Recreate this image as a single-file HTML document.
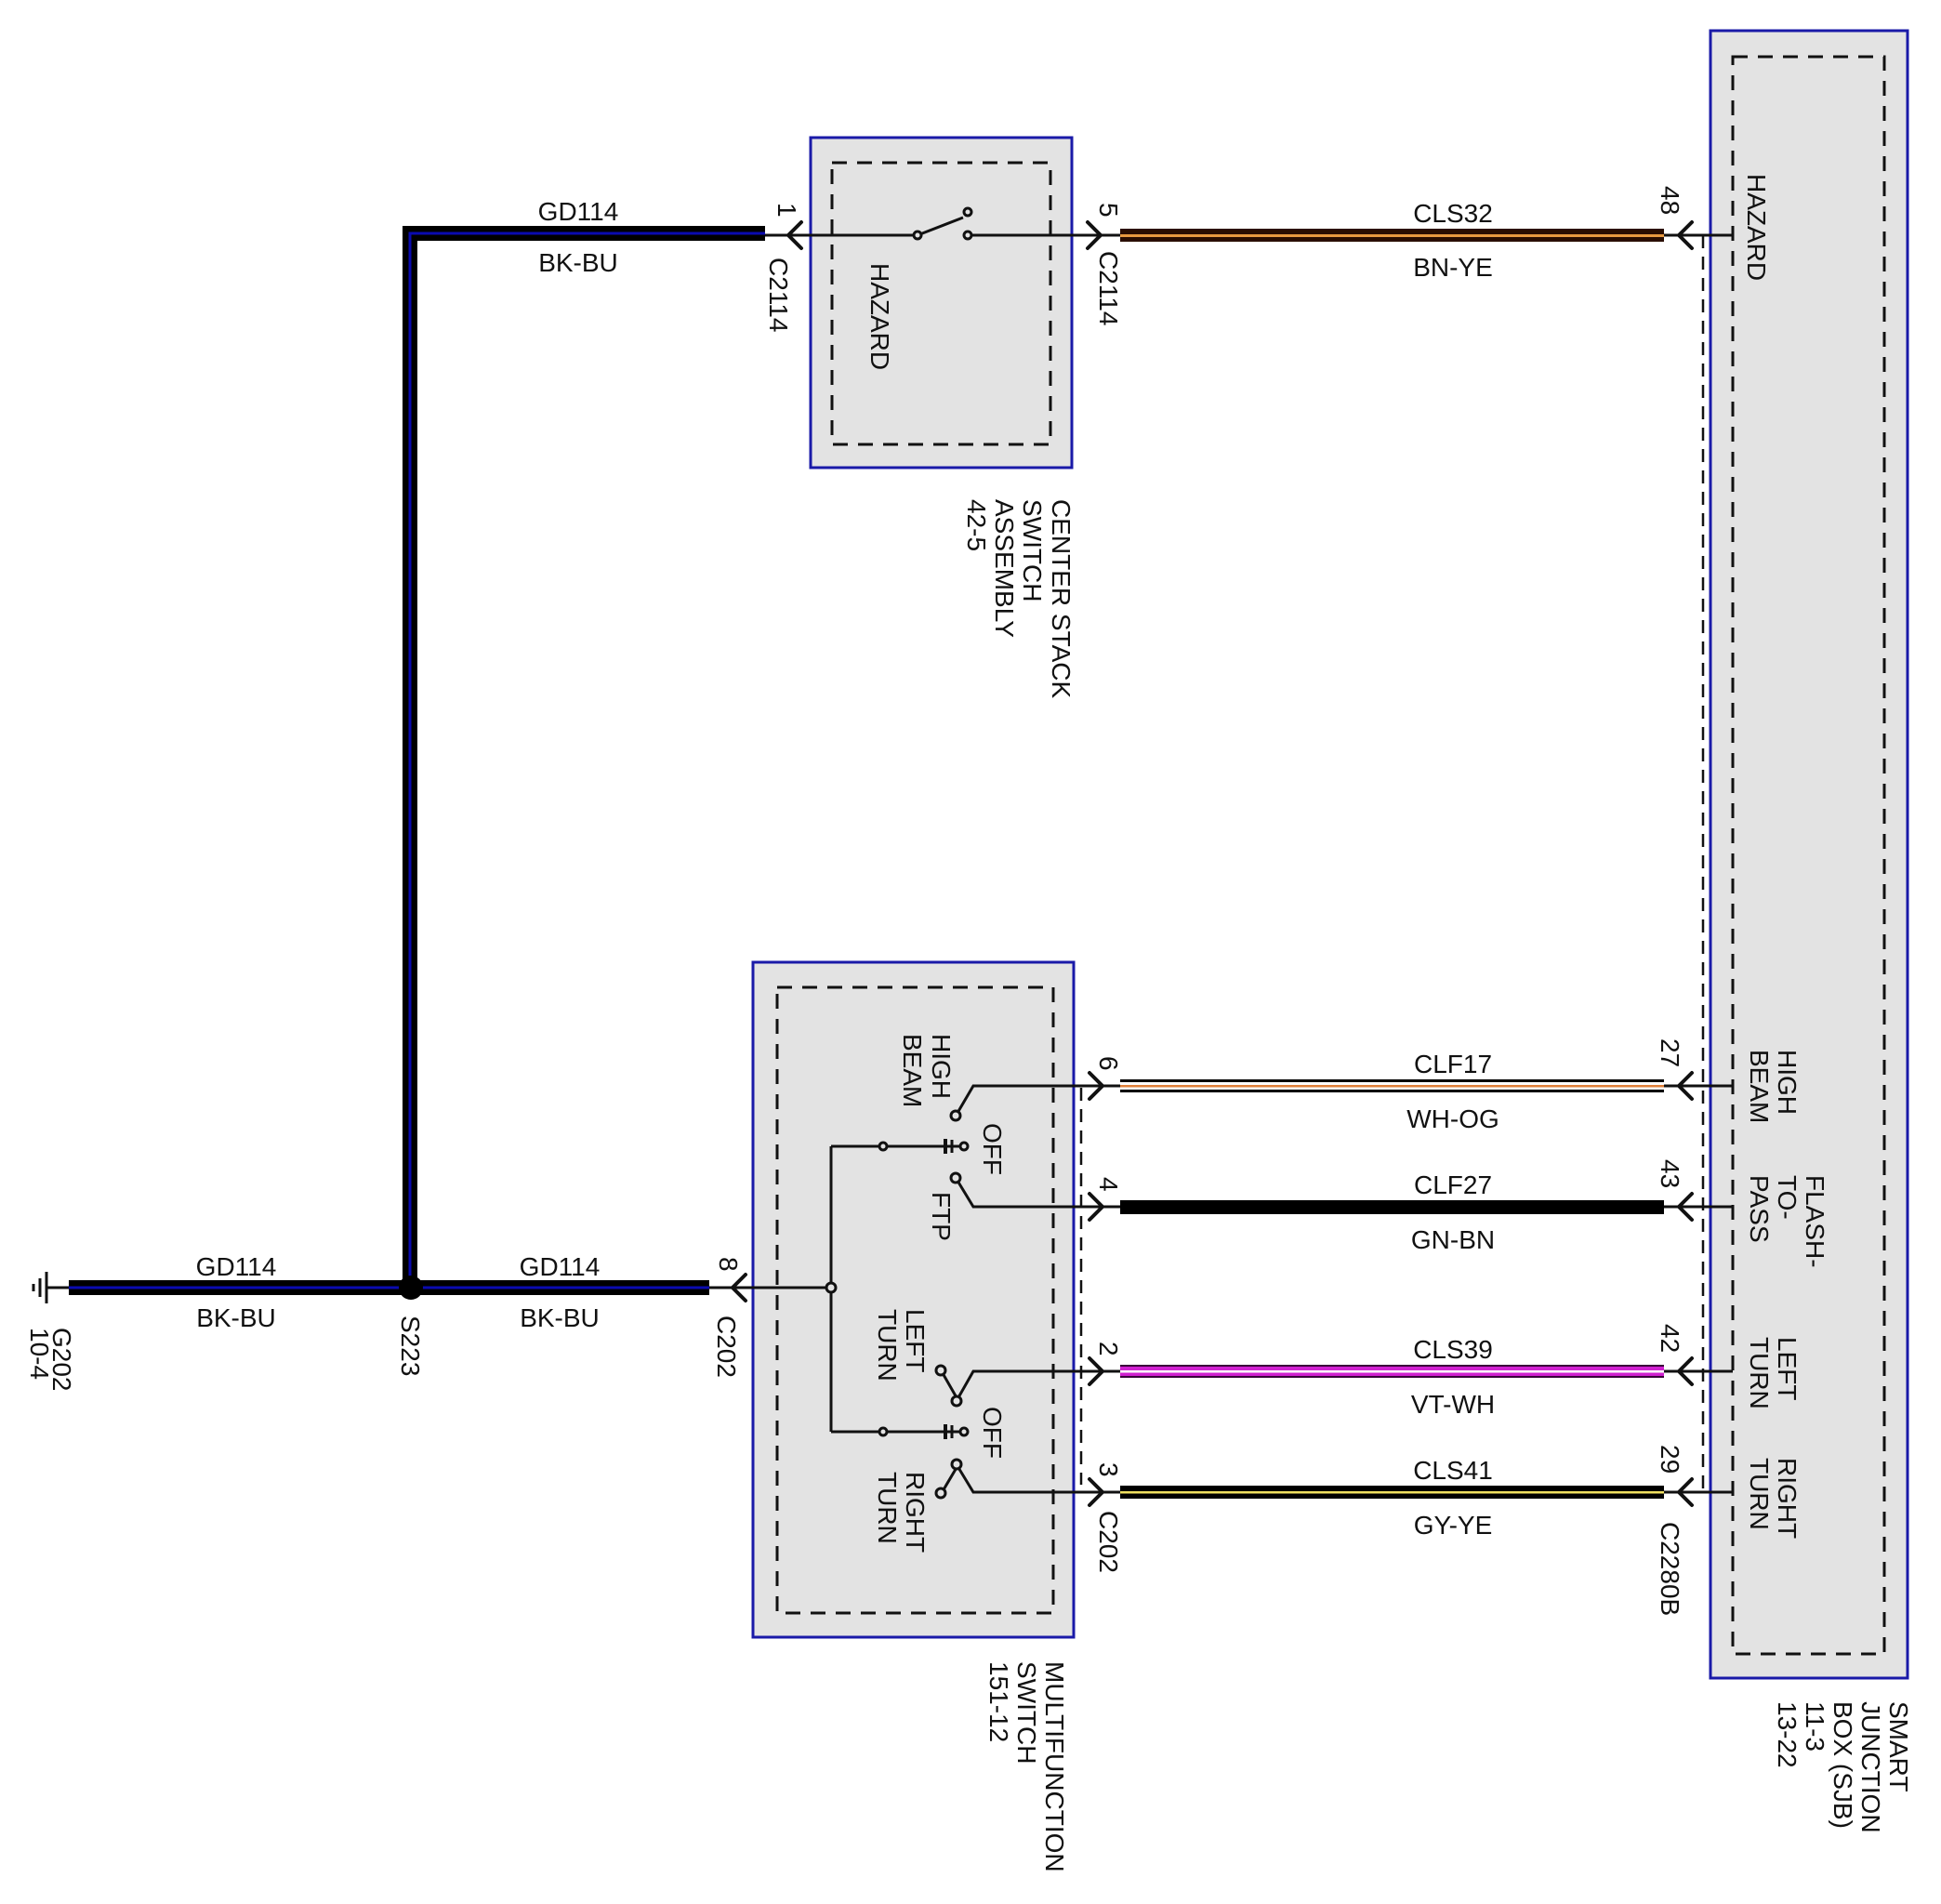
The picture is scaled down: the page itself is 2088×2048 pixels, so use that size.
<!DOCTYPE html>
<html><head><meta charset="utf-8"><style>
html,body{margin:0;padding:0;background:#fff}
svg{display:block}
text{font-family:"Liberation Sans",Arial,sans-serif;font-size:28px;fill:#111}
</style></head><body>
<svg width="2088" height="2048" viewBox="0 0 2088 2048" xmlns="http://www.w3.org/2000/svg">
<!-- boxes -->
<rect x="872" y="148" width="281" height="355" fill="#e3e3e3" stroke="#1a1aa8" stroke-width="3"/>
<rect x="895" y="175" width="235" height="303" fill="none" stroke="#111" stroke-width="3" stroke-dasharray="16,11"/>
<rect x="810" y="1035" width="345" height="726" fill="#e3e3e3" stroke="#1a1aa8" stroke-width="3"/>
<rect x="836" y="1062" width="297" height="673" fill="none" stroke="#111" stroke-width="3" stroke-dasharray="16,11"/>
<rect x="1840" y="33" width="212" height="1772" fill="#e3e3e3" stroke="#1a1aa8" stroke-width="3"/>
<rect x="1864" y="61" width="163" height="1718" fill="none" stroke="#111" stroke-width="3" stroke-dasharray="16,11"/>
<line x1="1832" y1="253" x2="1832" y2="1605" stroke="#111" stroke-width="2.5" stroke-dasharray="14,9"/>
<line x1="1163" y1="1170" x2="1163" y2="1597" stroke="#111" stroke-width="2.5" stroke-dasharray="14,9"/>

<!-- GD114 wires -->
<g fill="none" stroke-linejoin="miter">
<path d="M823,251 H441 V1385" stroke="#000" stroke-width="16"/>
<path d="M823,251 H441 V1385" stroke="#0a0ab0" stroke-width="3"/>
<line x1="74" y1="1385" x2="763" y2="1385" stroke="#000" stroke-width="16"/>
<line x1="74" y1="1385" x2="763" y2="1385" stroke="#0a0ab0" stroke-width="3"/>
</g>
<circle cx="442" cy="1385" r="13" fill="#000"/>
<!-- ground -->
<g stroke="#111" stroke-width="3">
<line x1="50" y1="1385" x2="74" y2="1385"/>
<line x1="50" y1="1368" x2="50" y2="1402"/>
<line x1="43" y1="1375" x2="43" y2="1395"/>
<line x1="36" y1="1381" x2="36" y2="1389"/>
</g>

<!-- thin lines -->
<g stroke="#111" stroke-width="3" fill="none">
<line x1="823" y1="253" x2="987" y2="253"/>
<line x1="1041" y1="253" x2="1205" y2="253"/>
<line x1="987" y1="253" x2="1036" y2="234"/>
<line x1="763" y1="1385" x2="894" y2="1385"/>
<path d="M894,1233 V1540"/>
<line x1="894" y1="1233" x2="1017" y2="1233"/>
<line x1="894" y1="1540" x2="1017" y2="1540"/>
<path d="M1205,1168 H1047 L1030,1197"/>
<path d="M1205,1298 H1047 L1030,1270"/>
<path d="M1205,1475 H1047 L1030,1505 L1014,1477"/>
<path d="M1205,1605 H1047 L1030,1577 L1014,1604"/>
<line x1="1790" y1="253" x2="1864" y2="253"/>
<line x1="1790" y1="1168" x2="1864" y2="1168"/>
<line x1="1790" y1="1298" x2="1864" y2="1298"/>
<line x1="1790" y1="1475" x2="1864" y2="1475"/>
<line x1="1790" y1="1605" x2="1864" y2="1605"/>
<line x1="1017" y1="1225" x2="1017" y2="1241" stroke-width="4"/>
<line x1="1017" y1="1233" x2="1033" y2="1233"/>
<line x1="1024" y1="1226" x2="1024" y2="1240" stroke-width="3"/>
<line x1="1017" y1="1532" x2="1017" y2="1548" stroke-width="4"/>
<line x1="1017" y1="1540" x2="1033" y2="1540"/>
<line x1="1024" y1="1533" x2="1024" y2="1547" stroke-width="3"/>
</g>
<g fill="#e3e3e3" stroke="#111" stroke-width="3">
<circle cx="987" cy="253" r="4"/><circle cx="1041" cy="228" r="4"/><circle cx="1041" cy="253" r="4"/>
<circle cx="894" cy="1385" r="5"/>
<circle cx="950" cy="1233" r="4"/><circle cx="1037" cy="1233" r="4"/>
<circle cx="950" cy="1540" r="4"/><circle cx="1037" cy="1540" r="4"/>
<circle cx="1028" cy="1200" r="5"/><circle cx="1028" cy="1267" r="5"/>
<circle cx="1012" cy="1474" r="5"/><circle cx="1029" cy="1507" r="5"/>
<circle cx="1029" cy="1575" r="5"/><circle cx="1012" cy="1606" r="5"/>
</g>

<!-- colored wires -->
<g>
<rect x="1205" y="246" width="585" height="14" fill="#2a0e00"/>
<rect x="1205" y="252" width="585" height="3" fill="#e89a40"/>
<rect x="1205" y="1161" width="585" height="14" fill="#000"/>
<rect x="1205" y="1164" width="585" height="8" fill="#fff"/>
<rect x="1205" y="1167" width="585" height="2.5" fill="#e0803a"/>
<rect x="1205" y="1291" width="585" height="15" fill="#000"/>
<rect x="1205" y="1468" width="585" height="14" fill="#3a003a"/>
<rect x="1205" y="1470" width="585" height="10" fill="#d020d0"/>
<rect x="1205" y="1474" width="585" height="2.5" fill="#fff"/>
<rect x="1205" y="1598" width="585" height="14" fill="#000"/>
<rect x="1205" y="1604" width="585" height="2.5" fill="#f0e060"/>
</g>

<!-- connectors -->
<g fill="none" stroke="#111" stroke-width="4" stroke-linecap="round">
<path d="M862,239 L848,253 L862,267"/>
<path d="M1170,239 L1184,253 L1170,267"/>
<path d="M1820,239 L1806,253 L1820,267"/>
<path d="M802,1371 L788,1385 L802,1399"/>
<path d="M1172,1154 L1186,1168 L1172,1182"/>
<path d="M1172,1284 L1186,1298 L1172,1312"/>
<path d="M1172,1461 L1186,1475 L1172,1489"/>
<path d="M1172,1591 L1186,1605 L1172,1619"/>
<path d="M1820,1154 L1806,1168 L1820,1182"/>
<path d="M1820,1284 L1806,1298 L1820,1312"/>
<path d="M1820,1461 L1806,1475 L1820,1489"/>
<path d="M1820,1591 L1806,1605 L1820,1619"/>
</g>

<!-- horizontal labels -->
<g text-anchor="middle">
<text x="622" y="237">GD114</text><text x="622" y="292">BK-BU</text>
<text x="254" y="1372">GD114</text><text x="254" y="1427">BK-BU</text>
<text x="602" y="1372">GD114</text><text x="602" y="1427">BK-BU</text>
<text x="1563" y="239">CLS32</text><text x="1563" y="297">BN-YE</text>
<text x="1563" y="1154">CLF17</text><text x="1563" y="1213">WH-OG</text>
<text x="1563" y="1284">CLF27</text><text x="1563" y="1343">GN-BN</text>
<text x="1563" y="1461">CLS39</text><text x="1563" y="1520">VT-WH</text>
<text x="1563" y="1591">CLS41</text><text x="1563" y="1650">GY-YE</text>
</g>

<!-- rotated labels -->
<g>
<text transform="translate(837,218) rotate(90)">1</text>
<text transform="translate(828,277) rotate(90)">C2114</text>
<text transform="translate(1183,218) rotate(90)">5</text>
<text transform="translate(1183,270) rotate(90)">C2114</text>
<text transform="translate(937,283) rotate(90)">HAZARD</text>
<text transform="translate(1132,537) rotate(90)">CENTER STACK</text>
<text transform="translate(1101,537) rotate(90)">SWITCH</text>
<text transform="translate(1071,537) rotate(90)">ASSEMBLY</text>
<text transform="translate(1041,537) rotate(90)">42-5</text>
<text transform="translate(1787,200) rotate(90)">48</text>
<text transform="translate(1880,187) rotate(90)">HAZARD</text>

<text transform="translate(57,1428) rotate(90)">G202</text>
<text transform="translate(33,1428) rotate(90)">10-4</text>
<text transform="translate(432,1415) rotate(90)">S223</text>
<text transform="translate(772,1415) rotate(90)">C202</text>
<text transform="translate(774,1352) rotate(90)">8</text>

<text transform="translate(1003,1112) rotate(90)">HIGH</text>
<text transform="translate(972,1112) rotate(90)">BEAM</text>
<text transform="translate(1058,1208) rotate(90)">OFF</text>
<text transform="translate(1003,1282) rotate(90)">FTP</text>
<text transform="translate(975,1408) rotate(90)">LEFT</text>
<text transform="translate(945,1408) rotate(90)">TURN</text>
<text transform="translate(1058,1513) rotate(90)">OFF</text>
<text transform="translate(975,1583) rotate(90)">RIGHT</text>
<text transform="translate(945,1583) rotate(90)">TURN</text>
<text transform="translate(1125,1787) rotate(90)">MULTIFUNCTION</text>
<text transform="translate(1095,1787) rotate(90)">SWITCH</text>
<text transform="translate(1065,1787) rotate(90)">151-12</text>

<text transform="translate(1183,1136) rotate(90)">6</text>
<text transform="translate(1183,1266) rotate(90)">4</text>
<text transform="translate(1183,1443) rotate(90)">2</text>
<text transform="translate(1183,1573) rotate(90)">3</text>
<text transform="translate(1183,1625) rotate(90)">C202</text>

<text transform="translate(1787,1117) rotate(90)">27</text>
<text transform="translate(1787,1247) rotate(90)">43</text>
<text transform="translate(1787,1424) rotate(90)">42</text>
<text transform="translate(1787,1554) rotate(90)">29</text>
<text transform="translate(1787,1637) rotate(90)">C2280B</text>

<text transform="translate(1913,1129) rotate(90)">HIGH</text>
<text transform="translate(1883,1129) rotate(90)">BEAM</text>
<text transform="translate(1943,1264) rotate(90)">FLASH-</text>
<text transform="translate(1913,1264) rotate(90)">TO-</text>
<text transform="translate(1883,1264) rotate(90)">PASS</text>
<text transform="translate(1913,1438) rotate(90)">LEFT</text>
<text transform="translate(1883,1438) rotate(90)">TURN</text>
<text transform="translate(1913,1568) rotate(90)">RIGHT</text>
<text transform="translate(1883,1568) rotate(90)">TURN</text>

<text transform="translate(2033,1830) rotate(90)">SMART</text>
<text transform="translate(2003,1830) rotate(90)">JUNCTION</text>
<text transform="translate(1973,1830) rotate(90)">BOX (SJB)</text>
<text transform="translate(1943,1830) rotate(90)">11-3</text>
<text transform="translate(1913,1830) rotate(90)">13-22</text>
</g>
</svg>
</body></html>
